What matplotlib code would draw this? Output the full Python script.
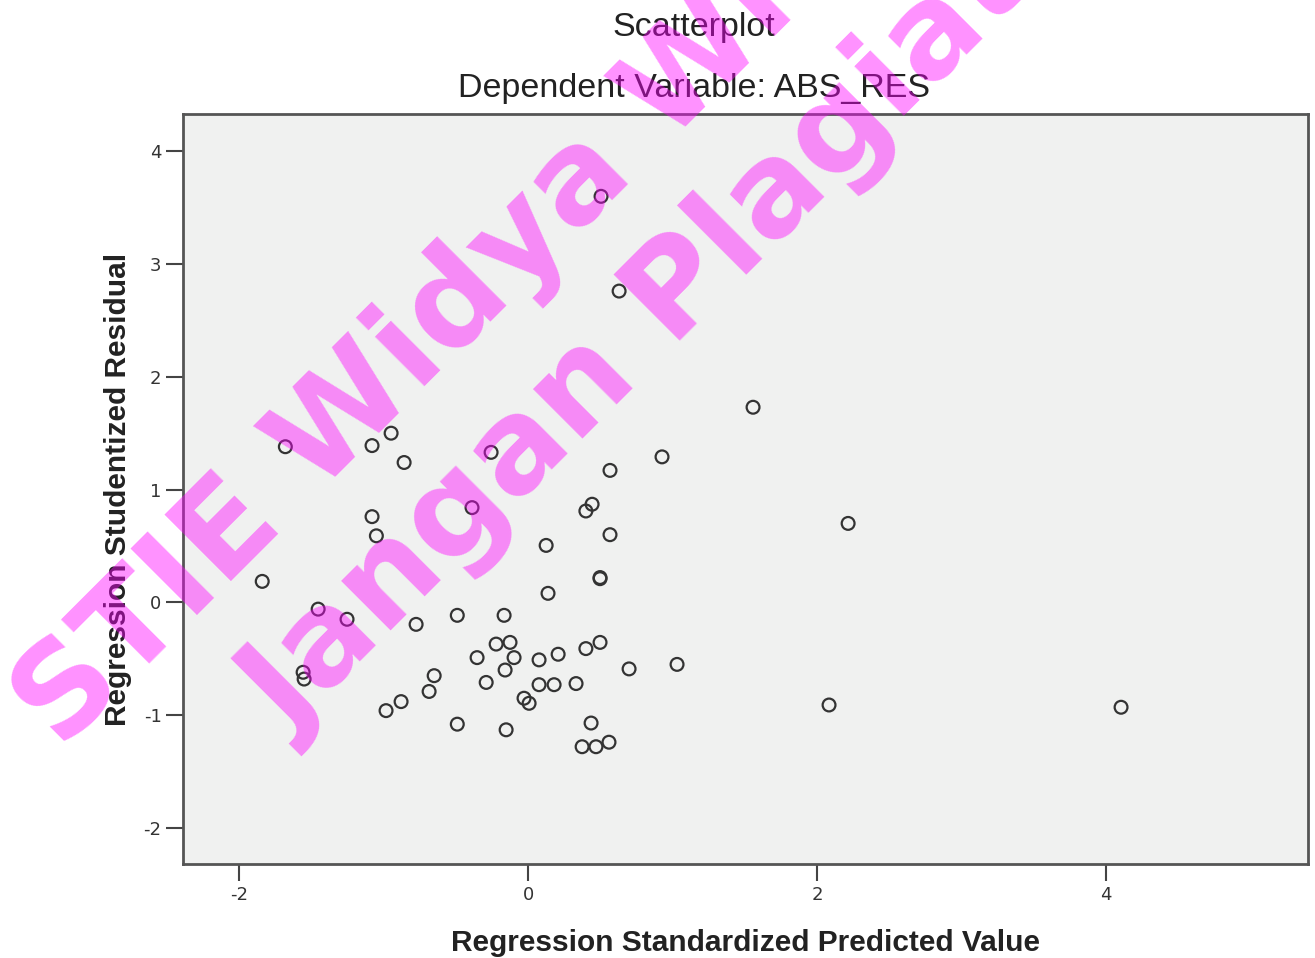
import matplotlib.pyplot as plt

plt.rcParams["axes.unicode_minus"] = False

# standardized predicted value vs studentized residual
pred = [0.505, 0.63, 1.557, -1.68, -1.08, -0.948, -0.858, -0.256, 0.567, 0.927,
        -0.388, -1.08, -1.05, 0.40, 0.443, 0.567, 0.125, 2.215, -1.84, 0.498,
        0.498, 0.138, -1.453, -1.253, -0.775, -0.49, -0.166, -1.557, -1.55, -0.65,
        -0.685, -0.879, -0.983, -0.49, -0.152, -0.353, -0.221, -0.125, -0.097, -0.159,
        -0.29, -0.028, 0.007, 0.076, 0.208, 0.076, 0.18, 0.332, 0.40, 0.498,
        0.699, 1.031, 0.436, 0.374, 0.47, 0.56, 2.083, 4.104]
resid = [3.60, 2.76, 1.73, 1.38, 1.39, 1.50, 1.24, 1.33, 1.17, 1.29,
         0.84, 0.76, 0.59, 0.81, 0.87, 0.60, 0.505, 0.70, 0.186, 0.22,
         0.21, 0.08, -0.06, -0.15, -0.195, -0.115, -0.115, -0.62, -0.68, -0.65,
         -0.79, -0.88, -0.96, -1.08, -1.13, -0.49, -0.37, -0.355, -0.49, -0.60,
         -0.71, -0.85, -0.895, -0.51, -0.46, -0.73, -0.73, -0.72, -0.41, -0.355,
         -0.59, -0.55, -1.07, -1.28, -1.28, -1.24, -0.91, -0.93]

xticks = [-2, 0, 2, 4]
yticks = [-2, -1, 0, 1, 2, 3, 4]

fig = plt.figure(figsize=(13.15, 9.58), dpi=100)
ax = fig.add_axes([0.1392, 0.0981, 0.8555, 0.7829])
ax.set_facecolor("#f0f1f0")

ax.scatter(pred, resid, s=85, facecolors="none", edgecolors="#333333", linewidths=1.6, zorder=3)

ax.set_xlim(-2.388, 5.398)
ax.set_ylim(-2.32, 4.33)
ax.set_xticks(xticks)
ax.set_yticks(yticks)
ax.tick_params(length=12, width=1.5, color="#444444", labelsize=13, labelcolor="#333333")
for s in ax.spines.values():
    s.set_linewidth(2)
    s.set_color("#555555")

lab = dict(family="Liberation Sans", fontweight="bold", fontsize=21.5, color="#222222")
ax.set_xlabel("Regression Standardized Predicted Value", labelpad=18, **lab)
ax.set_ylabel("Regression Studentized Residual", labelpad=8, **lab)

fig.text(0.528, 0.971, "Scatterplot", ha="center", va="center",
         family="Liberation Sans", fontsize=24.5, color="#222222")
fig.text(0.528, 0.908, "Dependent Variable: ABS_RES", ha="center", va="center",
         family="Liberation Sans", fontsize=24.5, color="#222222")

# watermark
wm = dict(family="DejaVu Sans", fontweight="bold", fontsize=93, color="#ff00ff",
          alpha=0.43, rotation=45, rotation_mode="anchor", ha="left", va="baseline", zorder=10)
fig.text(0.0468, 0.2155, "STIE Widya Wiwaha", **wm)
fig.text(0.2205, 0.2296, "Jangan Plagiat", **wm)

plt.savefig("out.png")
